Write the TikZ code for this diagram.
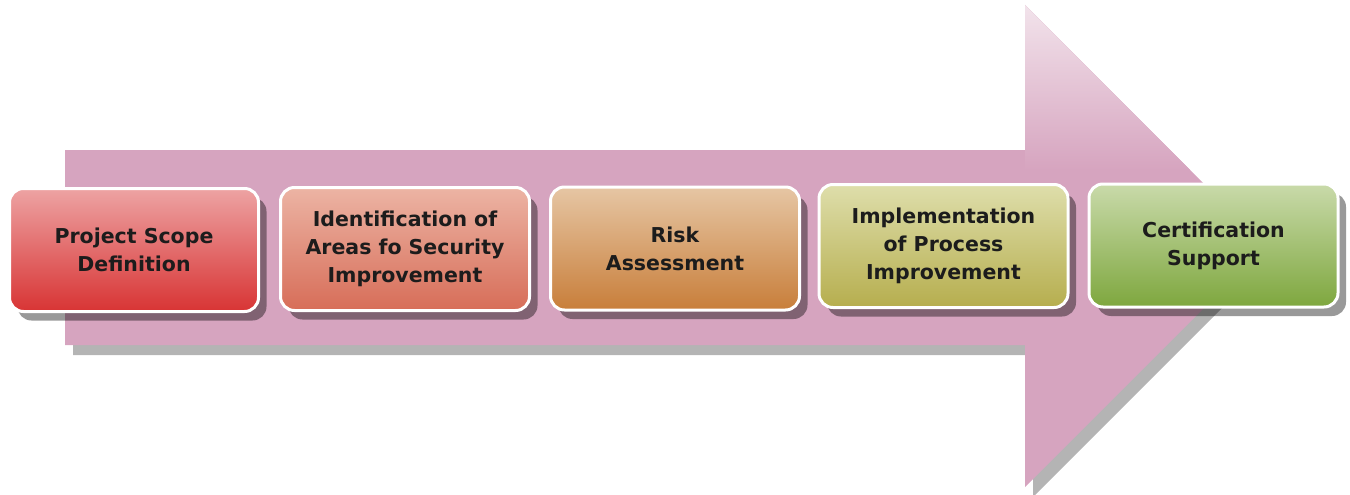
\documentclass[tikz,border=0pt]{standalone}
\usepackage{fontspec}
\setmainfont{DejaVu Sans}
\usetikzlibrary{shadows}

\definecolor{arrowtop}{HTML}{F2E3EB}
\definecolor{arrowmain}{HTML}{D6A4BF}
\definecolor{arrowshadow}{HTML}{B4B4B4}
\definecolor{textdark}{HTML}{1C1C1C}
\definecolor{scopetop}{HTML}{EDA3A3}
\definecolor{scopebot}{HTML}{D83434}
\definecolor{areastop}{HTML}{ECB4A4}
\definecolor{areasbot}{HTML}{D76D58}
\definecolor{risktop}{HTML}{E6C6A4}
\definecolor{riskbot}{HTML}{C87E3A}
\definecolor{impltop}{HTML}{DEDEAB}
\definecolor{implbot}{HTML}{B6AE4E}
\definecolor{certtop}{HTML}{C9DAAA}
\definecolor{certbot}{HTML}{7EA73E}

\tikzset{
  stepbox/.style={rounded corners=14pt, draw=white, line width=3pt,
    minimum width=249pt, minimum height=123pt, align=center,
    font=\fontsize{20.5}{28}\selectfont\bfseries, text=textdark,
    drop shadow={shadow xshift=8pt, shadow yshift=-9pt, fill=black, opacity=.4}}
}

\begin{document}
\begin{tikzpicture}[x=1pt,y=-1pt]
      \useasboundingbox (0,0) rectangle (1350,495);

      % the big arrow and its shadow
      \fill[arrowshadow] (73,160) -- (1033,160) -- (1033,15) -- (1274,256)
        -- (1033,497) -- (1033,355) -- (73,355) -- cycle;
      \fill[arrowmain] (65,150) -- (1025,150) -- (1025,5) -- (1266,246)
        -- (1025,487) -- (1025,345) -- (65,345) -- cycle;
      \shade[top color=arrowtop, bottom color=arrowmain]
        (1025,5) -- (1190,170) -- (1025,170) -- cycle;

      % the five steps
      \node[stepbox, top color=scopetop, bottom color=scopebot] (scope) at (134,250)
        {Project Scope\\Definition};
      \node[stepbox, top color=areastop, bottom color=areasbot] (areas) at (405,249)
        {Identification of\\Areas fo Security\\Improvement};
      \node[stepbox, top color=risktop, bottom color=riskbot] (risk) at (675,248.5)
        {Risk\\Assessment};
      \node[stepbox, top color=impltop, bottom color=implbot] (impl) at (943.5,246)
        {Implementation\\of Process\\Improvement};
      \node[stepbox, top color=certtop, bottom color=certbot] (cert) at (1213.5,245.5)
        {Certification\\Support};
\end{tikzpicture}
\end{document}
